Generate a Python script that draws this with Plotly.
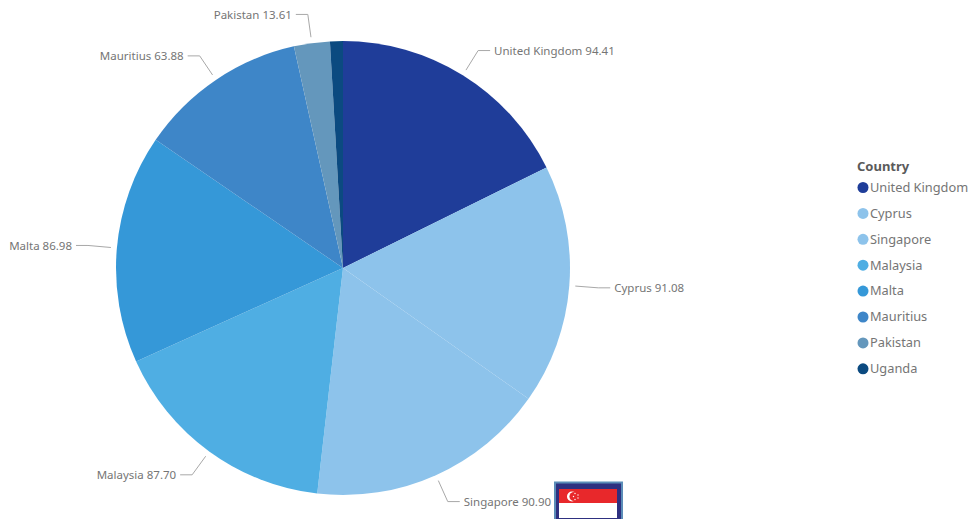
import math
import plotly.graph_objects as go

countries = ["United Kingdom", "Cyprus", "Singapore", "Malaysia", "Malta", "Mauritius", "Pakistan", "Uganda"]
values = [94.41, 91.08, 90.90, 87.70, 86.98, 63.88, 13.61, 4.90]
value_labels = ["94.41", "91.08", "90.90", "87.70", "86.98", "63.88", "13.61", None]
colors = ["#1F3D99", "#8DC3EB", "#8DC3EB", "#4FAEE3", "#3598D8", "#3E86C8", "#6497BC", "#0B4A80"]
legend_title = "Country"

W, H = 977, 519
CX, CY, R = 343.0, 268.0, 227.0
FONT = "Noto Sans"
TEXT = "#757575"

fig = go.Figure()

# full-window hidden axes measured in pixels
fig.update_xaxes(range=[0, W], visible=False, fixedrange=True)
fig.update_yaxes(range=[H, 0], visible=False, fixedrange=True)

fig.add_trace(go.Pie(
    labels=countries, values=values, sort=False, direction="clockwise", rotation=0,
    textinfo="none", hoverinfo="label+value", showlegend=False,
    marker=dict(colors=colors, line=dict(width=0)),
    domain=dict(x=[(CX - R) / W, (CX + R) / W], y=[1 - (CY + R) / H, 1 - (CY - R) / H]),
))

# leader lines and slice labels, placed from the slice mid-angles
total = sum(values)
cum = 0.0
for name, v, vl in zip(countries, values, value_labels):
    mid = (cum + v / 2) / total * 2 * math.pi
    cum += v
    if vl is None:
        continue
    s, c = math.sin(mid), math.cos(mid)
    side = 1 if s >= 0 else -1
    x0, y0 = CX + (R + 6) * s, CY - (R + 6) * c
    x1, y1 = CX + (R + 29) * s, CY - (R + 29) * c
    x2 = x1 + side * 12
    fig.add_trace(go.Scatter(x=[x0, x1, x2], y=[y0, y1, y1], mode="lines",
                             line=dict(color="#a8a8a8", width=1), hoverinfo="skip", showlegend=False))
    fig.add_trace(go.Scatter(x=[x2 + side * 4], y=[y1 + 1.5], mode="text", text=[f"{name} {vl}"],
                             textposition="middle right" if side > 0 else "middle left",
                             textfont=dict(family=FONT, size=11.5, color=TEXT),
                             hoverinfo="skip", showlegend=False))

# legend
LEG_X, LEG_Y, LEG_GAP = 863, 187.5, 25.9
fig.add_trace(go.Scatter(
    x=[LEG_X] * len(countries), y=[LEG_Y + i * LEG_GAP for i in range(len(countries))],
    mode="markers", marker=dict(size=11, color=colors, line=dict(width=0)),
    hoverinfo="skip", showlegend=False,
))
fig.add_trace(go.Scatter(
    x=[LEG_X + 7] * len(countries), y=[LEG_Y + 1.2 + i * LEG_GAP for i in range(len(countries))],
    mode="text", text=countries, textposition="middle right",
    textfont=dict(family=FONT, size=12.8, color=TEXT), hoverinfo="skip", showlegend=False,
))
fig.add_annotation(xref="x", yref="y", x=855, y=165.5, text=f"<b>{legend_title}</b>", showarrow=False,
                   xanchor="left", yanchor="middle", font=dict(family=FONT, size=13, color="#5a5a5a"))

# flag image
def rect(x0, y0, x1, y1, fill, line=None):
    fig.add_shape(type="rect", xref="x", yref="y", x0=x0, y0=y0, x1=x1, y1=y1, fillcolor=fill,
                  line=dict(color=line, width=2) if line else dict(width=0), layer="above")
def disc(x, y, r, fill):
    fig.add_shape(type="circle", xref="x", yref="y", x0=x - r, y0=y - r, x1=x + r, y1=y + r,
                  fillcolor=fill, line=dict(width=0), layer="above")
rect(555, 482.5, 622, 522, "#2E3080", "#5B8DB8")
rect(559, 489, 617, 503, "#E8282B")
rect(559, 503, 617, 518, "#FFFFFF")
disc(572, 496.5, 5, "#FFFFFF")
disc(574, 496.5, 4.6, "#E8282B")
for dx, dy in [(575, 493.5), (578, 495), (578, 498), (575, 499.5), (573.5, 496.5)]:
    disc(dx, dy, 0.7, "#FFFFFF")

fig.update_layout(width=W, height=H, margin=dict(l=0, r=0, t=0, b=0), showlegend=False,
                  paper_bgcolor="white", plot_bgcolor="white", font=dict(family=FONT))
fig.write_html("out.html", config=dict(displayModeBar=False), post_script="document.body.style.margin='0';document.body.style.overflow='hidden';")
